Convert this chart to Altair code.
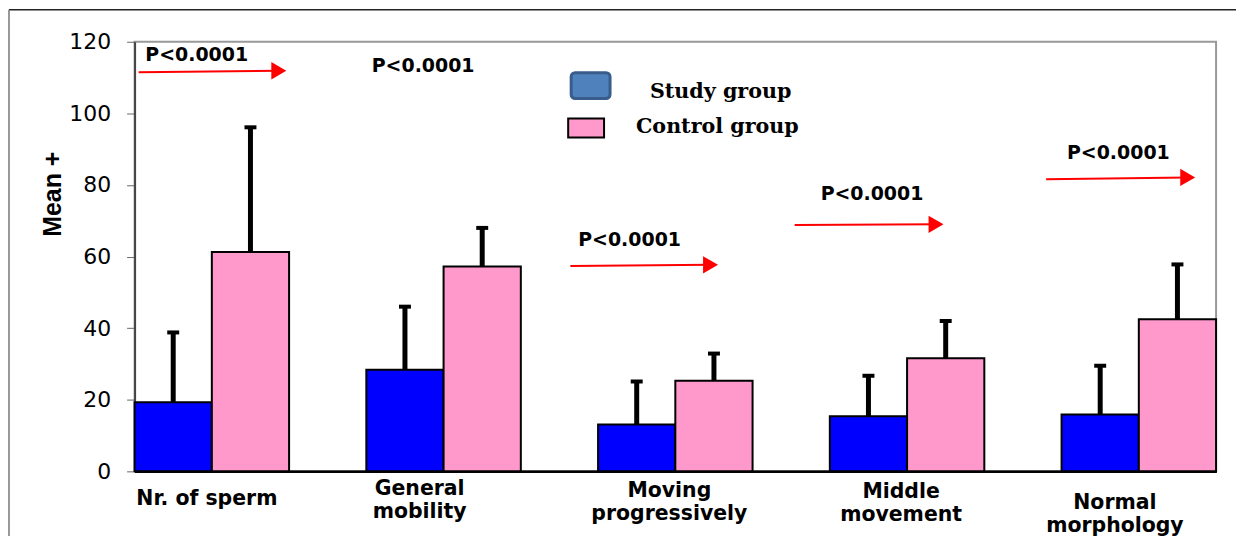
import altair as alt
import pandas as pd

# ---------------- data ----------------
categories = ["Nr. of sperm", "General mobility", "Moving progressively",
              "Middle movement", "Normal morphology"]
label_lines = [["Nr. of sperm"], ["General", "mobility"], ["Moving", "progressively"],
               ["Middle", "movement"], ["Normal", "morphology"]]
groups = ["Study group", "Control group"]
study_mean = [19.3, 28.4, 13.1, 15.4, 15.9]
study_sd = [19.5, 17.6, 12.0, 11.3, 13.6]
control_mean = [61.3, 57.2, 25.3, 31.6, 42.5]
control_sd = [34.8, 10.8, 7.6, 10.4, 15.3]
y_ticks = [0, 20, 40, 60, 80, 100, 120]
y_title = "Mean +"

p_labels = ["P<0.0001", "P<0.0001", "P<0.0001", "P<0.0001", "P<0.0001"]
# annotation anchors: x in group-index units, y in data units
p_text_x = [-0.287, 0.690, 1.581, 2.627, 3.690]
p_text_y = [116.4, 113.3, 64.6, 77.4, 88.8]
arrow_x1 = [-0.316, 1.547, 2.515, 3.600]
arrow_x2 = [0.289, 2.152, 3.125, 4.211]
arrow_y1 = [111.5, 57.35, 68.8, 81.6]
arrow_y2 = [111.9, 57.7, 69.0, 82.1]

# ---------------- layout ----------------
PLOT_W, PLOT_H = 1085, 431
Y_MAX = 120
label_shift_px = [-5, -24, -6, -6, -24]
label_top_px = [459, 449, 451, 452, 463]
LINE_H = 23


def px_to_y(p):
    return Y_MAX * (1 - p / PLOT_H)


rows = []
for i, c in enumerate(categories):
    rows.append({"category": c, "group": groups[0], "mean": study_mean[i],
                 "top": study_mean[i] + study_sd[i]})
    rows.append({"category": c, "group": groups[1], "mean": control_mean[i],
                 "top": control_mean[i] + control_sd[i]})
df = pd.DataFrame(rows)

step_px = PLOT_W / (len(categories) - 1 / 3)
lab_rows = []
for i, lines in enumerate(label_lines):
    for j, t in enumerate(lines):
        lab_rows.append({"x": i + label_shift_px[i] / step_px,
                         "y": px_to_y(label_top_px[i] + j * LINE_H), "text": t})
df_lab = pd.DataFrame(lab_rows)

df_p = pd.DataFrame({"x": p_text_x, "y": p_text_y, "text": p_labels})
df_arrow = pd.DataFrame({"x1": arrow_x1, "x2": arrow_x2, "y1": arrow_y1, "y2": arrow_y2})
one = pd.DataFrame({"a": [0]})

# ---------------- encodings ----------------
y_scale = alt.Scale(domain=[0, Y_MAX], nice=False)
y_axis = alt.Axis(values=y_ticks, title=None, grid=False, orient="left",
                  labelFont="DejaVu Sans", labelFontSize=22, labelColor="black",
                  labelPadding=16, tickSize=8, tickWidth=1, tickColor="#666666",
                  domainColor="#444444", domainWidth=2)

x_band = alt.X("category:N", sort=categories,
               scale=alt.Scale(paddingInner=1 / 3, paddingOuter=0),
               axis=alt.Axis(title=None, labels=False, ticks=False, orient="bottom",
                             domainColor="black", domainWidth=2))
x_off = alt.XOffset("group:N", sort=groups,
                    scale=alt.Scale(paddingInner=0, paddingOuter=0))
color = alt.Color("group:N", scale=alt.Scale(domain=groups, range=["#0000FF", "#FF99CC"]),
                  legend=None)

qx_scale = alt.Scale(domain=[-1 / 3, len(categories) - 1 + 1 / 3], nice=False, zero=False)


def qx(field):
    return alt.X(field, type="quantitative", scale=qx_scale, axis=None)


def qy(field):
    return alt.Y(field, type="quantitative", scale=y_scale, axis=y_axis)


bars = alt.Chart(df).mark_bar(stroke="black", strokeWidth=2).encode(
    x=x_band, xOffset=x_off, y=qy("mean"), color=color)
err = alt.Chart(df).mark_rule(color="black", strokeWidth=5).encode(
    x=x_band, xOffset=x_off, y=qy("mean"), y2="top:Q")
caps = alt.Chart(df).mark_tick(color="black", thickness=4, size=12, opacity=1).encode(
    x=x_band, xOffset=x_off, y=qy("top"))

p_text = alt.Chart(df_p).mark_text(align="left", baseline="middle", font="DejaVu Sans",
                                   fontWeight="bold", fontSize=19, color="black").encode(
    x=qx("x"), y=qy("y"), text="text:N")
arrow_line = alt.Chart(df_arrow).mark_rule(color="#FF0000", strokeWidth=2).encode(
    x=qx("x1"), x2="x2:Q", y=qy("y1"), y2="y2:Q")
arrow_head = alt.Chart(df_arrow).mark_point(shape="triangle-right", filled=True,
                                            color="#FF0000", opacity=1, size=300).encode(
    x=qx("x2"), y=qy("y2"))

x_labels = alt.Chart(df_lab).mark_text(align="center", baseline="middle", font="DejaVu Sans",
                                       fontWeight="bold", fontSize=20.5, color="black").encode(
    x=qx("x"), y=qy("y"), text="text:N")

# y-axis title (drawn as rotated text)
y_title_txt = alt.Chart(one).mark_text(align="center", baseline="middle", angle=270,
                                       font="Liberation Sans", fontWeight="bold", fontSize=25,
                                       color="black", text=y_title).encode(
    x=alt.value(-82), y=alt.value(153))

# legend (drawn by hand)
leg_study_box = alt.Chart(one).mark_rect(fill="#4F81BD", stroke="#385D8A", strokeWidth=3,
                                         cornerRadius=4).encode(
    x=alt.value(438), x2=alt.value(477), y=alt.value(31), y2=alt.value(57))
leg_ctrl_box = alt.Chart(one).mark_rect(fill="#FF99CC", stroke="black", strokeWidth=2).encode(
    x=alt.value(435), x2=alt.value(471), y=alt.value(77), y2=alt.value(96))
leg_study_txt = alt.Chart(one).mark_text(align="left", baseline="middle", font="DejaVu Serif",
                                         fontWeight="bold", fontSize=20.7, color="black",
                                         text=groups[0]).encode(
    x=alt.value(517), y=alt.value(50))
leg_ctrl_txt = alt.Chart(one).mark_text(align="left", baseline="middle", font="DejaVu Serif",
                                        fontWeight="bold", fontSize=20.7, color="black",
                                        text=groups[1]).encode(
    x=alt.value(503), y=alt.value(86))

# outer frame
frame_top = alt.Chart(one).mark_rule(color="#222222", strokeWidth=1.5).encode(
    x=alt.value(-126), x2=alt.value(PLOT_W + 30), y=alt.value(-32))
frame_left = alt.Chart(one).mark_rule(color="#777777", strokeWidth=1.5).encode(
    x=alt.value(-126), y=alt.value(-32), y2=alt.value(PLOT_H + 70))

chart = alt.layer(
    frame_top, frame_left, bars, err, caps, p_text, arrow_line, arrow_head, x_labels,
    y_title_txt, leg_study_box, leg_ctrl_box, leg_study_txt, leg_ctrl_txt
).resolve_scale(x="independent").properties(
    width=PLOT_W, height=PLOT_H, autosize="none",
    padding={"left": 127, "top": 33, "right": 20, "bottom": 64}
).configure_view(stroke="#999999", strokeWidth=2)

chart.save("out.html", embed_options={"renderer": "svg", "actions": False})
